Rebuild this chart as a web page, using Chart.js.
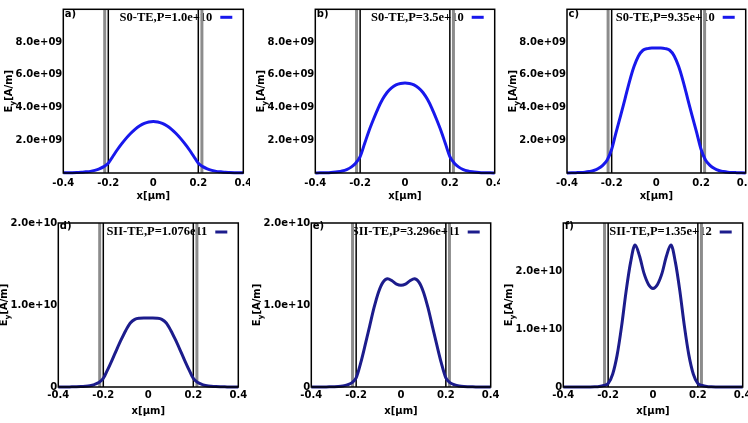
<!DOCTYPE html>
<html><head><meta charset="utf-8">
<script src="https://cdn.jsdelivr.net/npm/chart.js@4/dist/chart.umd.min.js"></script>
<style>
html,body{margin:0;padding:0;background:#fff;width:748px;height:423px;overflow:hidden;}
.p{position:absolute;}
canvas{display:block;}
</style></head><body>
<div class="p" style="left:0px;top:0px"><canvas id="ca" width="250" height="205"></canvas></div>
<div class="p" style="left:250px;top:0px"><canvas id="cb" width="250" height="205"></canvas></div>
<div class="p" style="left:500px;top:0px"><canvas id="cc" width="248" height="205"></canvas></div>
<div class="p" style="left:0px;top:205px"><canvas id="cd" width="250" height="218"></canvas></div>
<div class="p" style="left:250px;top:205px"><canvas id="ce" width="250" height="218"></canvas></div>
<div class="p" style="left:500px;top:205px"><canvas id="cf" width="248" height="218"></canvas></div>
<script>
// ---------- DATA ----------
const xPositions = [-0.4,-0.38,-0.36,-0.34,-0.32,-0.3,-0.28,-0.26,-0.24,-0.22,-0.2,-0.18,-0.16,-0.14,-0.12,-0.1,-0.08,-0.06,-0.04,-0.02,0,0.02,0.04,0.06,0.08,0.1,0.12,0.14,0.16,0.18,0.2,0.22,0.24,0.26,0.28,0.3,0.32,0.34,0.36,0.38,0.4];
const UNIT = 1e9; // field values below are in units of 1e9 A/m
const fieldA = [0.01,0.01,0.02,0.03,0.04,0.07,0.10,0.16,0.25,0.39,0.60,1.01,1.42,1.79,2.13,2.43,2.68,2.88,3.03,3.12,3.15,3.12,3.03,2.88,2.68,2.43,2.13,1.79,1.42,1.01,0.60,0.39,0.25,0.16,0.10,0.07,0.04,0.03,0.02,0.01,0.01];
const fieldB = [0.0,0.01,0.01,0.02,0.04,0.07,0.12,0.21,0.36,0.6,1.0,1.8,2.6,3.3,3.95,4.5,4.92,5.2,5.38,5.47,5.5,5.47,5.38,5.2,4.92,4.5,3.95,3.3,2.6,1.8,1.0,0.6,0.36,0.21,0.12,0.07,0.04,0.02,0.01,0.01,0.0];
const fieldC = [0.0,0.01,0.02,0.03,0.05,0.09,0.15,0.27,0.47,0.8,1.45,2.5,3.5,4.55,5.6,6.5,7.15,7.5,7.6,7.63,7.63,7.63,7.6,7.5,7.15,6.5,5.6,4.55,3.5,2.5,1.45,0.8,0.47,0.27,0.15,0.09,0.05,0.03,0.02,0.01,0.0];
const fieldD = [0.0,0.0,0.01,0.02,0.03,0.05,0.09,0.16,0.3,0.55,1.05,2.15,3.35,4.6,5.8,6.9,7.8,8.25,8.38,8.4,8.4,8.4,8.38,8.25,7.8,6.9,5.8,4.6,3.35,2.15,1.05,0.55,0.3,0.16,0.09,0.05,0.03,0.02,0.01,0.0,0.0];
const fieldE = [0.0,0.0,0.0,0.01,0.02,0.04,0.07,0.13,0.25,0.5,1.1,2.9,5.1,7.4,9.7,11.6,12.8,13.2,12.95,12.55,12.4,12.55,12.95,13.2,12.8,11.6,9.7,7.4,5.1,2.9,1.1,0.5,0.25,0.13,0.07,0.04,0.02,0.01,0.0,0.0,0.0];
const fieldF = [0.0,0.0,0.0,0.0,0.0,0.01,0.02,0.05,0.1,0.25,0.6,2.2,5.5,10.5,16.5,21.5,24.5,22.6,19.6,17.7,17.0,17.7,19.6,22.6,24.5,21.5,16.5,10.5,5.5,2.2,0.6,0.25,0.1,0.05,0.02,0.01,0.0,0.0,0.0,0.0,0.0];

const panelLetters = ['a)','b)','c)','d)','e)','f)'];
const legendLabels = ['S0-TE,P=1.0e+10','S0-TE,P=3.5e+10','S0-TE,P=9.35e+10','SII-TE,P=1.076e11','SII-TE,P=3.296e+11','SII-TE,P=1.35e+12'];
const xTickValues = [-0.4,-0.2,0,0.2,0.4];
const xTickLabels = ['-0.4','-0.2','0','0.2','0.4'];
const yTickValuesTop = [2e9,4e9,6e9,8e9];
const yTickLabelsTop = ['2.0e+09','4.0e+09','6.0e+09','8.0e+09'];
const yTickValuesBottom = [0,1e10,2e10];
const yTickLabelsBottom = ['0','1.0e+10','2.0e+10'];
const yMaxValues = [1e10,1e10,1e10,2e10,2e10,2.83e10];
const innerBoundaries = [-0.2,0.2];
const outerBoundaries = [-0.216,0.216];
const xAxisTitle = 'x[\u03bcm]';
const yAxisTitleParts = ['E','y','[A/m]'];

// ---------- RENDER ----------
Chart.defaults.font.family = 'DejaVu Sans';
Chart.defaults.font.size = 10;
Chart.defaults.font.weight = 'bold';
Chart.defaults.color = '#000';

const panelDecor = {
  id: 'panelDecor',
  beforeDatasetsDraw(chart, args, o) {
    const ctx = chart.ctx, a = chart.chartArea;
    ctx.save();
    // legend text and sample
    ctx.font = 'bold 12.5px "Liberation Serif"';
    ctx.fillStyle = '#000'; ctx.textAlign = 'right'; ctx.textBaseline = 'middle';
    ctx.fillText(o.legend, a.right - 31, a.top + o.legendDy);
    ctx.strokeStyle = o.color; ctx.lineWidth = 3;
    ctx.beginPath(); ctx.moveTo(a.right - 23, a.top + o.legendDy); ctx.lineTo(a.right - 11, a.top + o.legendDy); ctx.stroke();
    // panel letter
    ctx.font = 'bold 10px "DejaVu Sans"'; ctx.textAlign = 'left';
    ctx.fillText(o.letter, a.left + 1.5, a.top + o.letterDy);
    // y-axis title with subscript
    ctx.translate(a.left - 55, (a.top + a.bottom) / 2);
    ctx.rotate(-Math.PI / 2);
    const f1 = 'bold 10px "DejaVu Sans"', f2 = 'bold 7.5px "DejaVu Sans"';
    ctx.font = f1; const wE = ctx.measureText(yAxisTitleParts[0]).width; const wR = ctx.measureText(yAxisTitleParts[2]).width;
    ctx.font = f2; const wy = ctx.measureText(yAxisTitleParts[1]).width;
    const x0 = -(wE + wy + wR) / 2;
    ctx.textBaseline = 'alphabetic';
    ctx.font = f1; ctx.fillText(yAxisTitleParts[0], x0, 3.5);
    ctx.font = f2; ctx.fillText(yAxisTitleParts[1], x0 + wE, 6.5);
    ctx.font = f1; ctx.fillText(yAxisTitleParts[2], x0 + wE + wy, 3.5);
    ctx.restore();
  },
  afterDatasetsDraw(chart) {
    const ctx = chart.ctx, a = chart.chartArea;
    ctx.save();
    ctx.strokeStyle = '#000'; ctx.lineWidth = 1.5;
    ctx.strokeRect(a.left, a.top, a.right - a.left, a.bottom - a.top);
    ctx.restore();
  }
};

function makePanel(id, idx, series, color, g, yTicks, yLabels) {
  const yMax = yMaxValues[idx];
  const datasets = [{
    data: xPositions.map((x, i) => ({x: x, y: series[i] * UNIT})),
    borderColor: color, borderWidth: 3, pointRadius: 0,
    cubicInterpolationMode: 'monotone', fill: false, clip: 6
  }];
  innerBoundaries.forEach(b => datasets.push({
    data: [{x: b, y: 0}, {x: b, y: yMax}], borderColor: '#000', borderWidth: 1.5, pointRadius: 0, clip: 0
  }));
  outerBoundaries.forEach(b => datasets.push({
    data: [{x: b, y: 0}, {x: b, y: yMax}], borderColor: '#8c8c8c', borderWidth: 3, pointRadius: 0, clip: 0
  }));
  new Chart(document.getElementById(id), {
    type: 'line',
    data: {datasets},
    plugins: [panelDecor],
    options: {
      responsive: false, animation: false, devicePixelRatio: 1,
      parsing: false, normalized: true,
      layout: {padding: {left: 0, top: g.T, right: g.W - g.R, bottom: 0}},
      plugins: {
        legend: {display: false}, tooltip: {enabled: false},
        panelDecor: {legend: legendLabels[idx], letter: panelLetters[idx], color: color, legendDy: g.legendDy, letterDy: g.letterDy}
      },
      scales: {
        x: {
          type: 'linear', min: -0.4, max: 0.4,
          afterBuildTicks: s => { s.ticks = xTickValues.map(v => ({value: v})); },
          afterFit: s => { s.height = g.H - g.B; s.paddingLeft = 0; s.paddingRight = 0; },
          ticks: {autoSkip: false, maxRotation: 0, minRotation: 0, padding: g.xTickPad, color: '#000',
                  callback: (v, i) => xTickLabels[i]},
          grid: {display: false, drawTicks: false}, border: {display: false},
          title: {display: true, text: xAxisTitle, color: '#000',
                  font: {family: 'DejaVu Sans', weight: 'bold', size: 10}, padding: {top: 0, bottom: g.xTitlePad}}
        },
        y: {
          type: 'linear', min: 0, max: yMax,
          afterBuildTicks: s => { s.ticks = yTicks.map(v => ({value: v})); },
          afterFit: s => { s.width = g.L; s.paddingTop = 0; s.paddingBottom = 0; },
          ticks: {autoSkip: false, padding: 1, color: '#000', callback: (v, i) => yLabels[i]},
          grid: {display: false, drawTicks: false}, border: {display: false}
        }
      }
    }
  });
}

const blueTop = 'rgb(24,24,236)';
const navyBottom = 'rgb(28,28,140)';
const topGeom = (L, R, W) => ({W: W, H: 205, L: L, T: 9.3, R: R, B: 173, xTickPad: 4.4, xTitlePad: 3, legendDy: 8, letterDy: 5});
const botGeom = (L, R, W) => ({W: W, H: 218, L: L, T: 18, R: R, B: 182, xTickPad: 2, xTitlePad: 5.3, legendDy: 9, letterDy: 3});

makePanel('ca', 0, fieldA, blueTop, topGeom(63.3, 243.3, 250), yTickValuesTop, yTickLabelsTop);
makePanel('cb', 1, fieldB, blueTop, topGeom(65.3, 244.7, 250), yTickValuesTop, yTickLabelsTop);
makePanel('cc', 2, fieldC, blueTop, topGeom(67, 245.7, 248), yTickValuesTop, yTickLabelsTop);
makePanel('cd', 3, fieldD, navyBottom, botGeom(58.3, 238.3, 250), yTickValuesBottom, yTickLabelsBottom);
makePanel('ce', 4, fieldE, navyBottom, botGeom(61.3, 240.7, 250), yTickValuesBottom, yTickLabelsBottom);
makePanel('cf', 5, fieldF, navyBottom, botGeom(63.3, 242.7, 248), yTickValuesBottom, yTickLabelsBottom);
</script>
</body></html>
